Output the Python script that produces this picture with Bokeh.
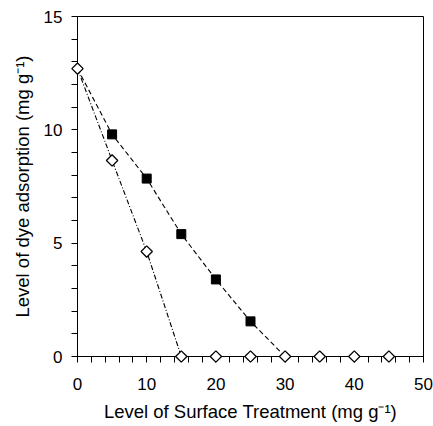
import numpy as np
from bokeh.plotting import figure
from bokeh.models import Range1d, FixedTicker, Title
from bokeh.embed import file_html
from bokeh.resources import INLINE

# Dye adsorption versus level of surface treatment
treatment = [0, 5, 10, 15, 20, 25, 30, 35, 40, 45]
adsorption_squares = [12.7, 9.8, 7.85, 5.4, 3.4, 1.55, 0, 0, 0, 0]
adsorption_diamonds = [12.7, 8.65, 4.63, 0, 0, 0, 0, 0, 0, 0]

x_ticks = [0, 10, 20, 30, 40, 50]
x_minor = [2, 4, 6, 8, 12, 14, 16, 18, 22, 24, 26, 28, 32, 34, 36, 38, 42, 44, 46, 48]
y_ticks = [0, 5, 10, 15]
y_minor = [1, 2, 3, 4, 6, 7, 8, 9, 11, 12, 13, 14]

X_MAX, Y_MAX = 50, 15

p = figure(
    width=433, height=426,
    x_range=Range1d(0, X_MAX), y_range=Range1d(0, Y_MAX),
    output_backend="svg", toolbar_location=None,
    min_border_left=77, min_border_right=10,
    min_border_top=16, min_border_bottom=70,
)
p.outline_line_color = "black"
p.outline_line_width = 1
p.xgrid.visible = False
p.ygrid.visible = False

FONT = "Liberation Sans"
TICK_SIZE = "17px"
LABEL_SIZE = "18.5px"

xa = p.xaxis[0]
xa.ticker = FixedTicker(ticks=x_ticks, minor_ticks=x_minor)
ya = p.yaxis[0]
ya.ticker = FixedTicker(ticks=y_ticks, minor_ticks=y_minor)

for ax in (xa, ya):
    ax.axis_line_color = "black"
    ax.axis_line_width = 1
    ax.major_tick_line_color = "black"
    ax.minor_tick_line_color = "black"
    ax.major_tick_in = 0
    ax.major_tick_out = 6
    ax.minor_tick_in = 0
    ax.minor_tick_out = 6
    ax.major_label_text_font = FONT
    ax.major_label_text_font_size = TICK_SIZE
    ax.major_label_text_color = "black"
xa.major_label_standoff = 15
ya.major_label_standoff = 9

xa.axis_label = "Level of Surface Treatment (mg g\u207b\u00b9)"
xa.axis_label_text_font = FONT
xa.axis_label_text_font_size = LABEL_SIZE
xa.axis_label_text_font_style = "normal"
xa.axis_label_text_color = "black"
xa.axis_label_standoff = 8

ytitle = Title(text="Level of dye adsorption (mg g\u207b\u00b9)", align="center",
               offset=32, standoff=16, text_font=FONT, text_font_size=LABEL_SIZE,
               text_font_style="normal", text_color="black")
p.add_layout(ytitle, "left")

tx = np.array(treatment, dtype=float)
sq = np.array(adsorption_squares, dtype=float)
di = np.array(adsorption_diamonds, dtype=float)

# filled squares joined by a dashed line
r = p.line(tx, sq, line_color="black", line_width=1.1, line_dash="5 3")
r.level = "overlay"
show_sq = sq != di
r = p.scatter(tx[show_sq], sq[show_sq], marker="square", size=9,
              fill_color="black", line_color="black")
r.level = "overlay"

# open diamonds joined by a dash-dot line
r = p.line(tx, di, line_color="black", line_width=1.1, line_dash="5 2 1 2")
r.level = "overlay"
r = p.scatter(tx, di, marker="square", angle=np.pi / 4, size=8,
              fill_color="white", line_color="black", line_width=1.3)
r.level = "overlay"

open("out.html", "w").write(file_html(p, INLINE))
